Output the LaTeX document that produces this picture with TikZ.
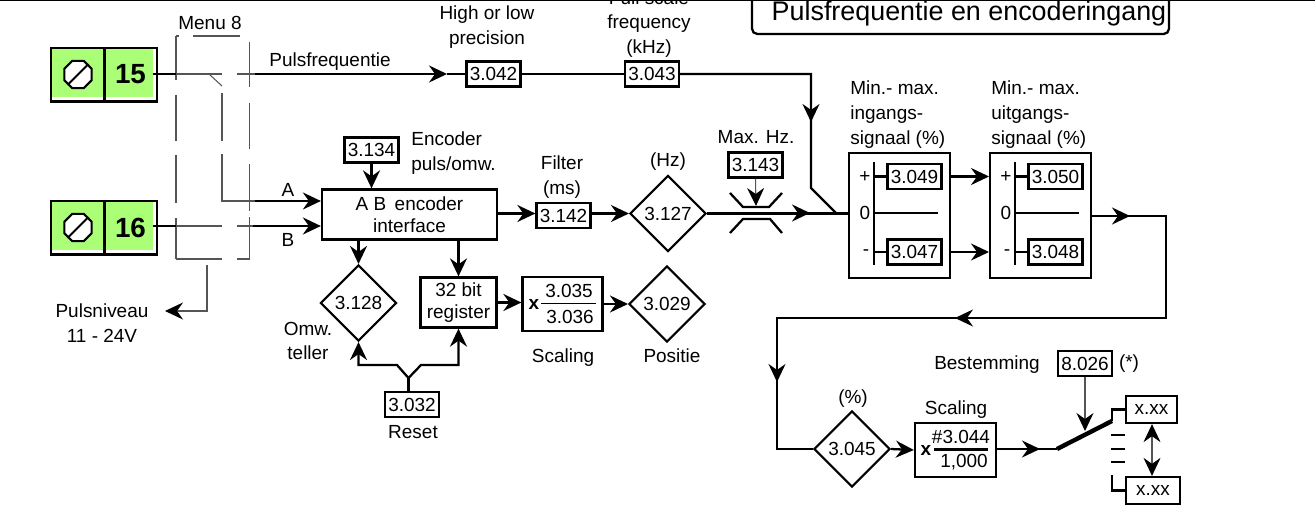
\documentclass[tikz,border=0pt]{standalone}
\usepackage{fontspec}
\setmainfont{Liberation Sans}
\usetikzlibrary{arrows.meta,positioning,calc,shapes.geometric}
\definecolor{termgreen}{HTML}{AAFF77}
\definecolor{wiregray}{HTML}{555555}
\tikzset{
  parBox/.style={draw, line width=1.3pt, fill=white, minimum width=1.08cm, minimum height=0.5cm, inner sep=0pt, font=\fontsize{10.8}{12}\selectfont},
  readBox/.style={draw, diamond, line width=1.2pt, fill=white, minimum width=1.52cm, minimum height=1.52cm, inner sep=0pt, font=\fontsize{10.8}{12}\selectfont},
  funcBox/.style={draw, line width=1.3pt, fill=white, inner sep=0pt, align=center, font=\fontsize{10.8}{12.6}\selectfont},
  noteLabel/.style={font=\fontsize{10.8}{14}\selectfont, align=center, inner sep=0pt},
  sigLine/.style={line width=1.3pt},
  sigArrow/.style={line width=1.3pt, -{Stealth[length=3.6mm, width=3.4mm, inset=1.2mm]}},
  headOnly/.style={-{Stealth[length=3.6mm, width=3.4mm, inset=1.2mm]}, line width=1.3pt},
  thinLine/.style={line width=0.6pt, draw=wiregray},
  thinArrow/.style={line width=0.6pt, draw=wiregray, -{Stealth[length=3.6mm, width=3.4mm, inset=1.2mm, fill=black, color=black]}},
  thinBoth/.style={line width=0.6pt, draw=wiregray, {Stealth[length=3.6mm, width=3.4mm, inset=1.2mm, fill=black, color=black]}-{Stealth[length=3.6mm, width=3.4mm, inset=1.2mm, fill=black, color=black]}}
}
\begin{document}
\begin{tikzpicture}[x=0.02cm,y=-0.02cm]
  \useasboundingbox (0,0) rectangle (1315,517);
  \clip (0,0) rectangle (1315,517);
  \draw[line width=1.1pt] (0,0) -- (1315,0);
  % title
  \draw[sigLine, rounded corners=3pt] (752,-10) -- (752,34) -- (1169,34) -- (1169,-10);
  \node[font=\fontsize{15.3}{17}\selectfont, inner sep=0pt] (title) at (969,14) {Pulsfrequentie en encoderingang};
  % terminals
  \foreach \n/\y in {15/74.5,16/227.5} {
    \node[fill=termgreen, minimum width=2.02cm, minimum height=0.98cm, inner sep=0pt] (term\n) at (102.5,\y-2) {};
    \draw[line width=1.4pt] (51,\y-26.5) rectangle (157,\y+27);
    \draw[line width=1.4pt] (104.5,\y-26.5) -- (104.5,\y+27);
    \node[draw, regular polygon, regular polygon sides=8, line width=1.2pt, fill=white, minimum size=0.59cm, inner sep=0pt] (screw\n) at (78,\y) {};
    \draw[line width=1.2pt] (screw\n.south west) -- (screw\n.north east);
    \node[font=\bfseries\fontsize{15.8}{17}\selectfont, inner sep=0pt] (num\n) at (130.5,\y) {\n};
  }
  % menu 8 switch frame
  \foreach \a/\b in {36/80,95/141,155/203,218/259} \draw[thinLine] (176,\a) -- (176,\b);
  \foreach \a/\b in {42/87,103/149,164/211,217/259} \draw[thinLine] (249.5,\a) -- (249.5,\b);
  \draw[thinLine] (176,36) -- (179,36) (193,36) -- (240,36);
  \draw[thinLine] (176,259) -- (222,259) (237,259) -- (249.5,259);
  \coordinate (p15a) at (176,74);
  \coordinate (p15b) at (255,74);
  \coordinate (p16a) at (176,226);
  \coordinate (p16b) at (253,226);
  \coordinate (pA) at (255,201);
  \draw[sigLine] (term15.east |- p15a) -- (p15a);
  \draw[sigLine] (term16.east |- p16a) -- (p16a);
  \draw[thinLine] (p15a) -- (222,74) (237,74) -- (p15b);
  \draw[thinLine] (p16a) -- (222,226) (237,226) -- (p16b);
  \draw[thinLine] (209,74) -- (222,86);
  \draw[thinLine] (222,93) -- (222,141) (222,154) -- (222,201) -- (pA);
  % top row
  \node[parBox] (b3042) at (493.5,74) {3.042};
  \node[parBox] (b3043) at (652,74) {3.043};
  \draw[sigArrow] (p15b) -- (447,74);
  \draw[sigLine] (447,74) -- (b3042.west);
  \draw[sigLine] (b3042.east) -- (b3043.west);
  \node[noteLabel] (lpuls) at (330,62) {Pulsfrequentie};
  \node[noteLabel] (lmenu) at (210,23) {Menu 8};
  \node[noteLabel] (lprec) at (487,27) {High or low\\precision};
  \node[noteLabel] (lfull) at (649,24) {Full scale\\frequency\\(kHz)};
  % encoder
  \node[funcBox, minimum width=3.5cm, minimum height=1.0cm] (enc) at (409.5,214.5) {A B\, encoder\\interface};
  \node[parBox] (b3134) at (371.5,150) {3.134};
  \node[parBox] (b3142) at (563.5,215.5) {3.142};
  \node[readBox] (d3127) at (668,213.5) {3.127};
  \draw[sigArrow] (pA) -- (enc.west |- pA);
  \draw[sigArrow] (p16b) -- (enc.west |- p16b);
  \draw[sigArrow] (b3134) -- (b3134 |- enc.north);
  \draw[sigArrow] (enc.east |- d3127) -- (b3142.west |- d3127);
  \draw[sigArrow] (b3142.east |- d3127) -- (d3127.west);
  \node[noteLabel] (lA) at (288,190) {A};
  \node[noteLabel] (lB) at (288,240) {B};
  \node[noteLabel, align=left, anchor=west] (lenc) at (411,153) {Encoder\\puls/omw.};
  \node[noteLabel] (lfilt) at (562,177) {Filter\\(ms)};
  \node[noteLabel] (lhz) at (668,162) {(Hz)};
  % pulse level
  \coordinate (plsTop) at (207,265);
  \node[noteLabel] (lniv) at (102,323) {Pulsniveau\\11 - 24V};
  \draw[thinArrow] (plsTop) |- (165,311);
  % lower row
  \node[readBox] (d3128) at (358.5,303) {3.128};
  \node[funcBox, minimum width=1.52cm, minimum height=1.0cm] (reg) at (458.5,302.5) {32 bit\\register};
  \node[draw, line width=1.3pt, minimum width=1.6cm, minimum height=1.08cm, inner sep=0pt] (scale) at (562.5,304) {};
  \node[font=\bfseries\fontsize{10.8}{12}\selectfont, inner sep=0pt] (xa) at (534,304) {x};
  \draw[line width=1.1pt] (541,303.5) -- (596,303.5);
  \node[noteLabel] (n3035) at (569,291) {3.035};
  \node[noteLabel] (n3036) at (570,317) {3.036};
  \node[readBox] (d3029) at (667,304) {3.029};
  \node[parBox] (b3032) at (412,404.5) {3.032};
  \draw[sigArrow] (d3128 |- enc.south) -- (d3128.north);
  \draw[sigArrow] (reg |- enc.south) -- (reg.north);
  \draw[sigArrow] (reg.east) -- (reg.east -| scale.west);
  \draw[sigArrow] (scale.east) -- (d3029.west);
  \coordinate (rfork) at (408.5,378);
  \draw[sigArrow] (rfork) -- (397,365) -- (358.5,365) -- (d3128.south);
  \draw[sigArrow] (rfork) -- (421,365) -- (458.5,365) -- (reg.south);
  \draw[sigLine] (rfork) -- (rfork |- b3032.north);
  \node[noteLabel] (lrst) at (413,432) {Reset};
  \node[noteLabel] (lomw) at (308,341) {Omw.\\teller};
  \node[noteLabel] (lsc1) at (563,358) {Scaling};
  \node[noteLabel] (lpos) at (672,356) {Positie};
  % limiter
  \node[parBox] (b3143) at (755.5,165) {3.143};
  \node[noteLabel] (lmax) at (756,137) {Max. Hz.};
  \draw[sigLine] (730,193) -- (743,207) -- (769,207) -- (782,193);
  \draw[sigLine] (730,233) -- (743,219) -- (770,219) -- (782,233);
  \coordinate (lim) at (756,206);
  \draw[thinArrow] (b3143.south) -- (lim);
  % min-max blocks
  \foreach \nm/\x/\hi/\lo/\txt in {a/848/3.049/3.047/ingangs-,b/989/3.050/3.048/uitgangs-} {
    \node[draw, line width=1.3pt, minimum width=2.02cm, minimum height=2.5cm, inner sep=0pt, anchor=north west] (mm\nm) at (\x,152) {};
    \node[parBox] (hi\nm) at (\x+66.5,176.5) {\hi};
    \node[parBox] (lo\nm) at (\x+66.5,252) {\lo};
    \draw[line width=1.4pt] (\x+26,162) -- (\x+26,265);
    \draw[sigLine] (\x+26,176.5) -- (hi\nm.west);
    \draw[sigLine] (\x+26,252) -- (lo\nm.west);
    \draw[sigLine] (\x+26,213) -- (\x+90,213);
    \node[noteLabel] (pl\nm) at (\x+17,177) {+};
    \node[noteLabel] (ze\nm) at (\x+17,213) {0};
    \node[noteLabel] (mi\nm) at (\x+18,253) {-};
    \node[noteLabel, align=left, anchor=west] (lmm\nm) at (\x+2,114.5) {Min.- max.\\\txt\\signaal (\%)};
  }
  \draw[sigArrow] (hia.east -| mma.east) -- (hia.east -| mmb.west);
  \draw[sigArrow] (loa.east -| mma.east) -- (loa.east -| mmb.west);
  % pulse frequency joins main line
  \coordinate (join) at (836,213);
  \draw[sigLine] (b3043.east) -- (811,74) -- (811,188) -- (join);
  \draw[headOnly] (811,100) -- (811,122);
  \draw[sigLine] (d3127.east) -- (mma.west |- d3127.east);
  \draw[headOnly] (790,213) -- (810,213);
  % output loop
  \node[readBox] (d3045) at (852,449) {3.045};
  \node[draw, line width=1.3pt, minimum width=1.62cm, minimum height=1.08cm, inner sep=0pt] (scb) at (955.5,450) {};
  \node[font=\bfseries\fontsize{10.8}{12}\selectfont, inner sep=0pt] (xb) at (926,450) {x};
  \draw[line width=1.3pt] (934,449.5) -- (988,449.5);
  \node[noteLabel] (n3044) at (961,437) {\#3.044};
  \node[noteLabel] (n1000) at (964,462) {1,000};
  \draw[sigLine] (mmb.east |- 0,216) -- (1166,216) -- (1166,318) -- (777,318) -- (777,449) -- (d3045.west);
  \draw[headOnly] (1110,216) -- (1130,216);
  \draw[headOnly] (975,318) -- (955,318);
  \draw[headOnly] (777,360) -- (777,382);
  \draw[sigArrow] (d3045.east) -- (scb.west);
  \node[noteLabel] (lpct) at (853,399) {(\%)};
  \node[noteLabel] (lsc2) at (956,410) {Scaling};
  % destination selector
  \coordinate (sw0) at (1057,449);
  \coordinate (sw1) at (1112,421);
  \coordinate (sw2) at (1112,475);
  \node[parBox, minimum width=1.02cm, minimum height=0.54cm] (dsta) at (1151.5,409.5) {x.xx};
  \node[parBox, minimum width=1.08cm, minimum height=0.54cm] (dstb) at (1153,490.5) {x.xx};
  \node[parBox] (b8026) at (1085,363.5) {8.026};
  \draw[sigLine] (scb.east |- sw0) -- (sw0);
  \draw[headOnly] (1020,449) -- (1040,449);
  \draw[line width=2.5pt] (sw0) -- (sw1);
  \draw[sigLine] (sw1) |- (dsta.west);
  \draw[sigLine] (sw2) |- (dstb.west);
  \foreach \y in {435,449,462} \draw[sigLine] (1111,\y) -- (1125,\y);
  \coordinate (swtip) at (1085,431);
  \draw[thinArrow] (b8026.south) -- (swtip);
  \draw[thinBoth] (dsta.south -| 1152,0) -- (dstb.north -| 1152,0);
  \node[noteLabel] (lbest) at (987,365) {Bestemming};
  \node[noteLabel] (lstar) at (1129,364) {(*)};
\end{tikzpicture}
\end{document}
